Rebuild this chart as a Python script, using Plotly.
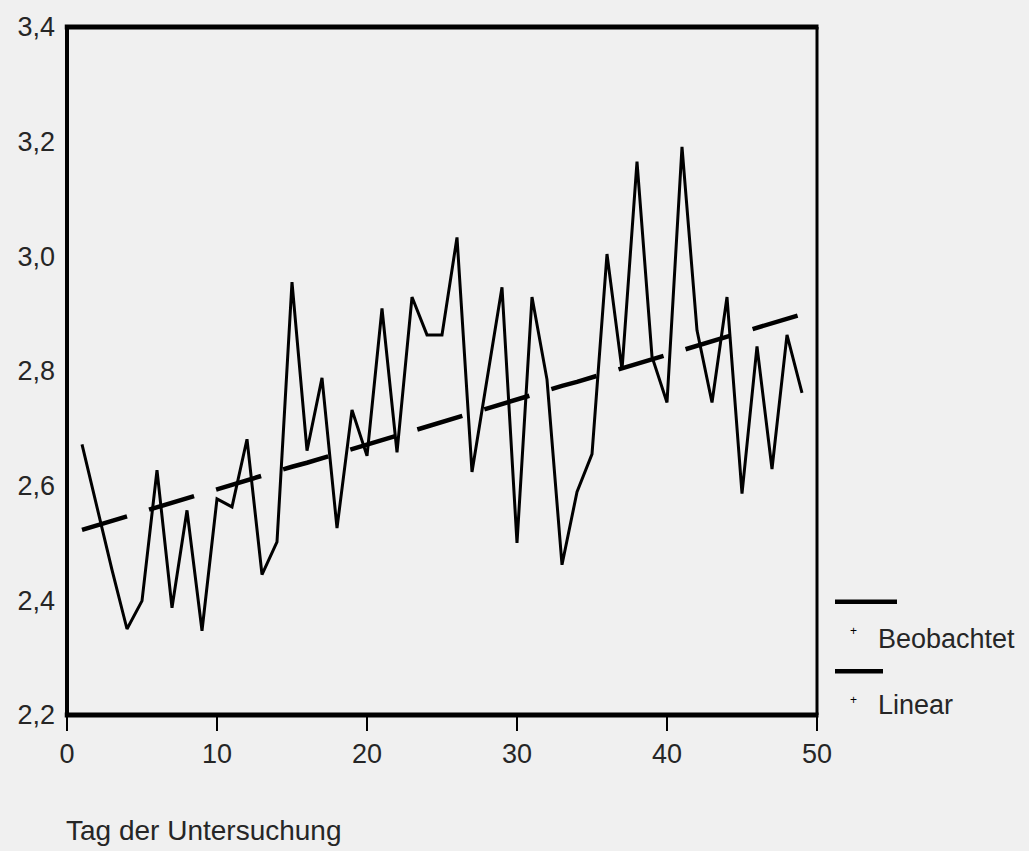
import plotly.graph_objects as go

days = list(range(1, 50))
observed = [2.672, 2.560, 2.453, 2.350, 2.399, 2.627, 2.387, 2.557, 2.347, 2.577,
            2.563, 2.681, 2.445, 2.502, 2.955, 2.661, 2.788, 2.526, 2.732, 2.652,
            2.909, 2.658, 2.929, 2.863, 2.863, 3.033, 2.624, 2.785, 2.946, 2.500,
            2.929, 2.785, 2.462, 2.589, 2.655, 3.004, 2.802, 3.165, 2.825, 2.745,
            3.191, 2.871, 2.745, 2.929, 2.586, 2.843, 2.629, 2.863, 2.762]
linear = [2.523, 2.531, 2.539, 2.547, 2.554, 2.562, 2.570, 2.578, 2.586, 2.593,
          2.601, 2.609, 2.617, 2.625, 2.633, 2.640, 2.648, 2.656, 2.664, 2.672,
          2.680, 2.687, 2.695, 2.703, 2.711, 2.719, 2.727, 2.734, 2.742, 2.750,
          2.758, 2.766, 2.774, 2.781, 2.789, 2.797, 2.805, 2.813, 2.821, 2.828,
          2.836, 2.844, 2.852, 2.860, 2.868, 2.875, 2.883, 2.891, 2.899]
x_ticks = [0, 10, 20, 30, 40, 50]
y_ticks = [2.2, 2.4, 2.6, 2.8, 3.0, 3.2, 3.4]
legend_names = ["Beobachtet", "Linear"]
x_title = "Tag der Untersuchung"

BG = "#f0f0f0"
TXT = "#262626"
FONT = "Liberation Sans, Arial, sans-serif"

fig = go.Figure()
fig.add_trace(go.Scatter(x=days, y=linear, mode="lines", name=legend_names[1],
                         line=dict(color="black", width=4.5, dash="47px,23px"),
                         showlegend=False))
fig.add_trace(go.Scatter(x=days, y=observed, mode="lines", name=legend_names[0],
                         line=dict(color="black", width=3), showlegend=False))

W, H = 1029, 851
L, R, T, B = 67, 212, 22, 136
pw, ph = W - L - R, H - T - B

def px(xp):
    return (xp - L) / pw

def py(yp):
    return (H - B - yp) / ph

shapes = [
    # frame
    dict(type="line", xref="paper", yref="paper", x0=0, x1=0, y0=0, y1=1,
         line=dict(color="black", width=4)),
    dict(type="line", xref="paper", yref="paper", x0=-0.003, x1=1.002, y0=0, y1=0,
         line=dict(color="black", width=5)),
    dict(type="line", xref="paper", yref="paper", x0=-0.003, x1=1.002, y0=1, y1=1,
         line=dict(color="black", width=5)),
    dict(type="line", xref="paper", yref="paper", x0=1, x1=1, y0=0, y1=1,
         line=dict(color="black", width=3)),
    # legend line samples
    dict(type="line", xref="paper", yref="paper", x0=px(835), x1=px(897), y0=py(601), y1=py(601),
         line=dict(color="black", width=4.5)),
    dict(type="line", xref="paper", yref="paper", x0=px(835), x1=px(883), y0=py(671), y1=py(671),
         line=dict(color="black", width=4.5)),
]

annotations = [
    dict(xref="paper", yref="paper", x=px(853), y=py(630), text="+", showarrow=False,
         font=dict(size=12, color="black", family=FONT), xanchor="center", yanchor="middle"),
    dict(xref="paper", yref="paper", x=px(876), y=py(638), text=legend_names[0], showarrow=False,
         font=dict(size=27, color=TXT, family=FONT), xanchor="left", yanchor="middle"),
    dict(xref="paper", yref="paper", x=px(853), y=py(700), text="+", showarrow=False,
         font=dict(size=12, color="black", family=FONT), xanchor="center", yanchor="middle"),
    dict(xref="paper", yref="paper", x=px(876), y=py(705), text=legend_names[1], showarrow=False,
         font=dict(size=27, color=TXT, family=FONT), xanchor="left", yanchor="middle"),
    dict(xref="paper", yref="paper", x=px(64), y=py(831), text=x_title, showarrow=False,
         font=dict(size=28, color=TXT, family=FONT), xanchor="left", yanchor="middle"),
]

fig.update_layout(
    width=W, height=H, autosize=False,
    margin=dict(l=L, r=R, t=T, b=B, pad=0),
    paper_bgcolor=BG, plot_bgcolor=BG,
    separators=",.",
    font=dict(family=FONT, size=27, color=TXT),
    shapes=shapes, annotations=annotations,
    showlegend=False,
)
fig.update_xaxes(range=[0, 50], tickvals=x_ticks, ticktext=[str(v) for v in x_ticks],
                 showgrid=False, zeroline=False, showline=False,
                 ticks="outside", ticklen=15, tickwidth=2, tickcolor="black",
                 ticklabelstandoff=0, tickfont=dict(size=27, color=TXT, family=FONT))
fig.update_yaxes(range=[2.2, 3.4], tickvals=y_ticks, tickformat=".1f",
                 showgrid=False, zeroline=False, showline=False, ticks="",
                 ticklabelstandoff=11, tickfont=dict(size=27, color=TXT, family=FONT))

fig.write_html(
    "out.html",
    config={"displayModeBar": False},
    post_script="document.body.style.margin='0';document.body.style.padding='0';"
                "document.body.style.overflow='hidden';document.body.style.background='#f0f0f0';",
)
